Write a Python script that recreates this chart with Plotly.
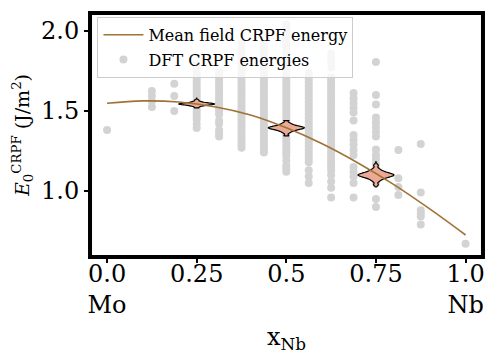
import plotly.graph_objects as go

# ---- data ----
curve_x = [0.0, 0.1, 0.2, 0.3, 0.4, 0.5, 0.6, 0.7, 0.8, 0.9, 1.0]
curve_y = [1.548, 1.563, 1.556, 1.527, 1.475, 1.395, 1.295, 1.175, 1.04, 0.888, 0.725]

dft_columns = {
    0.0: [1.381],
    0.125: [1.625, 1.594, 1.5625, 1.525],
    0.1875: [1.67, 1.594, 1.50],
    0.25: [1.79, 1.77, 1.75, 1.73, 1.71, 1.69, 1.67, 1.65, 1.63, 1.61, 1.59, 1.57,
           1.55, 1.53, 1.51, 1.49, 1.47, 1.45, 1.42, 1.394],
    0.3125: [1.74, 1.72, 1.70, 1.68, 1.66, 1.64, 1.62, 1.60, 1.58, 1.56, 1.54, 1.52,
             1.50, 1.48, 1.44, 1.42, 1.38, 1.36, 1.34],
    0.375: [1.925, 1.89, 1.87, 1.85, 1.83, 1.81, 1.79, 1.77, 1.75, 1.73, 1.71, 1.69,
            1.67, 1.65, 1.63, 1.61, 1.59, 1.57, 1.55, 1.53, 1.51, 1.49, 1.47, 1.45,
            1.43, 1.41, 1.39, 1.37, 1.35, 1.33, 1.31, 1.29, 1.27],
    0.4375: [1.92, 1.90, 1.88, 1.86, 1.84, 1.82, 1.80, 1.78, 1.76, 1.74, 1.72, 1.70,
             1.68, 1.66, 1.64, 1.62, 1.60, 1.58, 1.56, 1.54, 1.52, 1.50, 1.48, 1.46,
             1.44, 1.42, 1.40, 1.38, 1.36, 1.34, 1.32, 1.30, 1.28, 1.26, 1.24],
    0.5: [2.04, 2.02, 2.00, 1.98, 1.96, 1.94, 1.92, 1.90, 1.88, 1.86, 1.84, 1.82,
          1.80, 1.78, 1.76, 1.74, 1.72, 1.70, 1.68, 1.66, 1.64, 1.62, 1.60, 1.58,
          1.56, 1.54, 1.52, 1.50, 1.48, 1.46, 1.44, 1.42, 1.40, 1.38, 1.36, 1.34,
          1.32, 1.30, 1.28, 1.26, 1.24, 1.22, 1.19, 1.16, 1.14, 1.12],
    0.5625: [1.74, 1.72, 1.70, 1.68, 1.66, 1.64, 1.62, 1.60, 1.58, 1.56, 1.54, 1.52,
             1.50, 1.48, 1.46, 1.44, 1.42, 1.40, 1.38, 1.36, 1.34, 1.32, 1.30, 1.28,
             1.26, 1.24, 1.22, 1.20, 1.18, 1.13, 1.09, 1.05],
    0.625: [1.86, 1.83, 1.80, 1.77, 1.71, 1.69, 1.67, 1.65, 1.63, 1.61, 1.59, 1.57,
            1.55, 1.53, 1.51, 1.49, 1.47, 1.45, 1.43, 1.41, 1.39, 1.37, 1.35, 1.33,
            1.31, 1.29, 1.27, 1.25, 1.23, 1.21, 1.19, 1.17, 1.15, 1.13, 1.10, 1.06,
            1.02, 0.96],
    0.6875: [1.6125, 1.58, 1.55, 1.52, 1.49, 1.44, 1.35, 1.32, 1.29, 1.256, 1.225,
             1.15, 1.12, 1.09, 1.05, 0.96],
    0.75: [1.806, 1.60, 1.54, 1.46, 1.43, 1.40, 1.37, 1.34, 1.26, 1.225, 1.20, 1.17,
           1.14, 1.11, 1.08, 1.05, 0.95, 0.90],
    0.8125: [1.256, 1.08, 1.025, 0.975],
    0.875: [1.294, 0.99, 0.88, 0.86, 0.84, 0.79],
    1.0: [0.67],
}

# violin samples (estimated, sharply peaked distributions) and their vertical spans
violin_data = {
    0.25: [1.5197, 1.5284, 1.5325, 1.5352, 1.5372, 1.5388, 1.5402, 1.5413, 1.5423,
           1.5432, 1.544, 1.5448, 1.5457, 1.5467, 1.5478, 1.5492, 1.5508, 1.5528,
           1.5555, 1.5596, 1.5683],
    0.5: [1.3464, 1.3638, 1.372, 1.3774, 1.3814, 1.3846, 1.3873, 1.3896, 1.3916,
          1.3934, 1.395, 1.3966, 1.3984, 1.4004, 1.4027, 1.4054, 1.4086, 1.4126,
          1.418, 1.4262, 1.4436],
    0.75: [1.0392, 1.061, 1.0713, 1.078, 1.083, 1.087, 1.0904, 1.0932, 1.0957,
           1.098, 1.10, 1.102, 1.1043, 1.1068, 1.1096, 1.113, 1.117, 1.122,
           1.1287, 1.139, 1.1608],
}
violin_span = {
    0.25: [1.519, 1.581],
    0.5: [1.344, 1.44],
    0.75: [1.025, 1.183],
}
violin_bw = {0.25: 0.004, 0.5: 0.006, 0.75: 0.008}

x_tickvals = [0.0, 0.25, 0.5, 0.75, 1.0]
x_ticktext = ["0.0<br>Mo", "0.25", "0.5", "0.75", "1.0<br>Nb"]
y_tickvals = [1.0, 1.5, 2.0]
y_ticktext = ["1.0", "1.5", "2.0"]

LINE_COLOR = "#A07236"
POINT_COLOR = "#D3D3D3"
VIOLIN_FILL = "#EBAA96"
FONT = "DejaVu Serif"

fig = go.Figure()

px_, py_ = [], []
for xv, ys in dft_columns.items():
    for yv in ys:
        px_.append(xv)
        py_.append(yv)

fig.add_trace(go.Scatter(
    x=px_, y=py_, mode="markers", name="DFT CRPF energies",
    marker=dict(color=POINT_COLOR, size=8, line=dict(width=0)),
    legendgroup="b", legendrank=2, zorder=0,
))

for xv, vals in violin_data.items():
    fig.add_trace(go.Violin(
        x=[xv] * len(vals), y=vals, width=0.1, spanmode="manual", span=violin_span[xv],
        bandwidth=violin_bw[xv],
        fillcolor=VIOLIN_FILL, opacity=1, line=dict(color="black", width=1.2),
        points=False, box_visible=False, meanline_visible=False,
        showlegend=False, hoverinfo="skip", zorder=1,
    ))

fig.add_trace(go.Scatter(
    x=curve_x, y=curve_y, mode="lines", name="Mean field CRPF energy",
    line=dict(color=LINE_COLOR, width=1.6, shape="spline"),
    legendgroup="a", legendrank=1, zorder=2,
))

PW = 490 - 91.5 - 5
PH = 360 - 15 - 105
fig.add_shape(type="rect", xref="paper", yref="paper",
              x0=-2 / PW, x1=1 + 2 / PW, y0=-2 / PH, y1=1 + 2 / PH,
              line=dict(color="black", width=4), fillcolor="rgba(0,0,0,0)", layer="above")

fig.update_layout(
    width=490, height=360,
    margin=dict(l=91.5, r=5, t=15, b=105),
    paper_bgcolor="white", plot_bgcolor="white",
    font=dict(family=FONT, color="black"),
    showlegend=True,
    violinmode="overlay",
    legend=dict(
        x=0.014, y=0.992, xanchor="left", yanchor="top",
        bgcolor="rgba(255,255,255,0.8)", bordercolor="#CCCCCC", borderwidth=1,
        font=dict(family=FONT, size=16, color="black"),
        traceorder="grouped", tracegroupgap=1, itemwidth=40,
    ),
    xaxis=dict(
        range=[-0.042, 1.043], tickmode="array", tickvals=x_tickvals, ticktext=x_ticktext,
        showgrid=False, zeroline=False, showline=False,
        ticks="outside", ticklen=7, tickwidth=1.5, ticklabelstandoff=-10,
        tickcolor="black", tickfont=dict(family=FONT, size=24),
        title=dict(text="x<sub>Nb</sub>", font=dict(family=FONT, size=24), standoff=10),
    ),
    yaxis=dict(
        range=[0.6, 2.1], tickmode="array", tickvals=y_tickvals, ticktext=y_ticktext,
        showgrid=False, zeroline=False, showline=False,
        ticks="outside", ticklen=7, tickwidth=1.5,
        tickcolor="black", tickfont=dict(family=FONT, size=24),
        title=dict(text="<i>E</i><sub>0</sub><sup>CRPF</sup> (J/m<sup>2</sup>)",
                   font=dict(family=FONT, size=19), standoff=6),
    ),
)

fig.write_html("out.html")
